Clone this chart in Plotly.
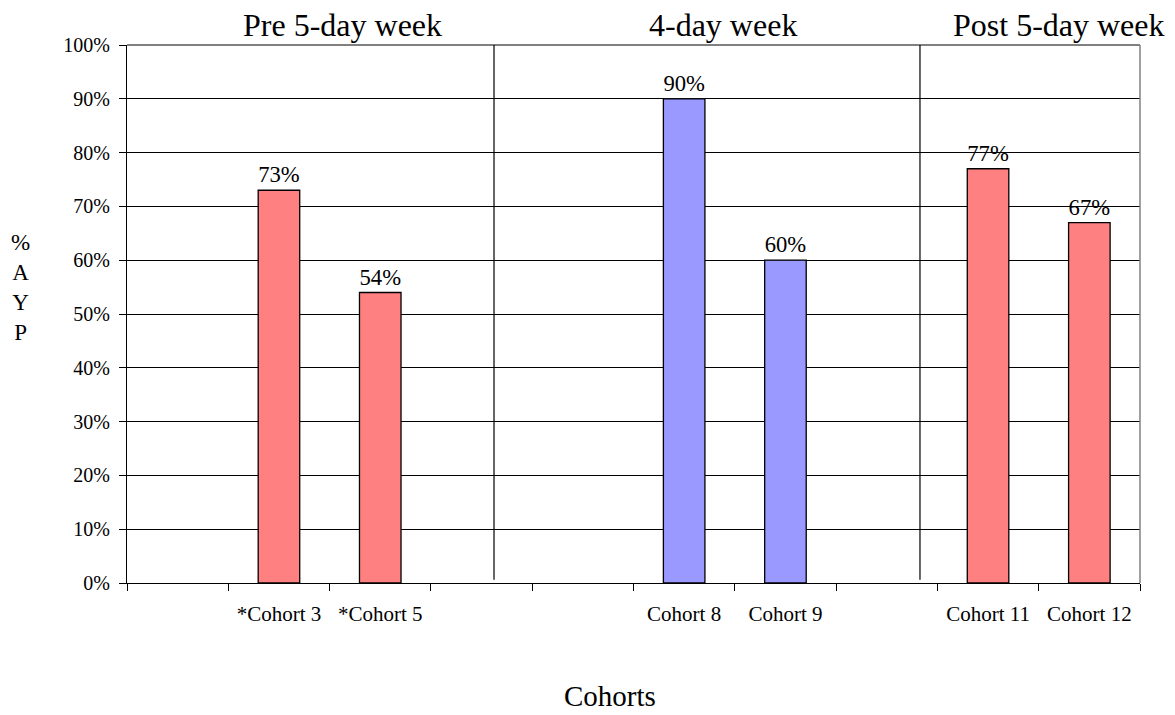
import plotly.graph_objects as go

# categories (blank slots keep the spacing of the original chart)
categories = [" ", "*Cohort 3", "*Cohort 5", "  ", "   ", "Cohort 8", "Cohort 9", "    ", "Cohort 11", "Cohort 12"]
values = [None, 0.73, 0.54, None, None, 0.90, 0.60, None, 0.77, 0.67]
bar_colors = ["#FF8080", "#FF8080", "#FF8080", "#9999FF", "#9999FF", "#9999FF", "#9999FF", "#FF8080", "#FF8080", "#FF8080"]
period_titles = ["Pre 5-day week", "4-day week", "Post 5-day week"]
y_ticks = [0, 0.1, 0.2, 0.3, 0.4, 0.5, 0.6, 0.7, 0.8, 0.9, 1.0]

FONT = "Liberation Serif, Times New Roman, serif"

fig = go.Figure()
fig.add_trace(go.Bar(
    x=categories,
    y=values,
    marker=dict(color=bar_colors, line=dict(color="#000000", width=1.3)),
    text=[f"{round(v*100)}%" if v is not None else "" for v in values],
    textposition="outside",
    textfont=dict(family=FONT, size=23, color="#000000"),
    cliponaxis=False,
    hoverinfo="x+y",
))

# the page body adds an 8px offset, so the figure is 8px smaller and margins shifted
fig.update_layout(
    width=1167, height=707,
    margin=dict(l=119, r=35, t=37, b=132, autoexpand=False),
    paper_bgcolor="white", plot_bgcolor="white",
    bargap=0.59,
    showlegend=False,
    font=dict(family=FONT, color="#000000"),
)

fig.update_xaxes(
    type="category",
    categoryorder="array", categoryarray=categories,
    tickson="boundaries",
    ticks="outside", ticklen=7, tickcolor="#000000", tickwidth=1,
    showline=True, linecolor="#000000", linewidth=1.3,
    showgrid=False,
    automargin=False,
    tickfont=dict(family=FONT, size=21, color="#000000"),
    ticklabelstandoff=12,
)
fig.update_yaxes(
    range=[0, 1],
    tickvals=y_ticks,
    tickformat=".0%",
    ticks="outside", ticklen=7, tickcolor="#000000", tickwidth=1,
    showline=True, linecolor="#000000", linewidth=1.3,
    showgrid=True, gridcolor="#000000", gridwidth=1,
    zeroline=False,
    automargin=False,
    tickfont=dict(family=FONT, size=20, color="#000000"),
    ticklabelstandoff=5,
)

# gray top and right frame
fig.add_shape(type="line", xref="paper", yref="paper", x0=0, x1=1, y0=1, y1=1,
              line=dict(color="#808080", width=2))
fig.add_shape(type="line", xref="paper", yref="paper", x0=1, x1=1, y0=0, y1=1,
              line=dict(color="#808080", width=1.5))

# period separators
for xs in [0.3623, 0.7828]:
    fig.add_shape(type="line", xref="paper", yref="paper", x0=xs, x1=xs, y0=0.006, y1=1,
                  line=dict(color="#000000", width=1.2))

# period titles
for txt, xp in zip(period_titles, [0.2125, 0.588, 0.9205]):
    fig.add_annotation(text=txt, xref="paper", yref="paper", x=xp, y=1, yshift=20,
                       showarrow=False, font=dict(family=FONT, size=32, color="#000000"),
                       xanchor="center", yanchor="middle")

# axis titles
fig.add_annotation(text="Cohorts", xref="paper", yref="paper", x=0.477, y=0, yshift=-113,
                   showarrow=False, font=dict(family=FONT, size=29, color="#000000"),
                   xanchor="center", yanchor="middle")
fig.add_annotation(text="%<br>A<br>Y<br>P", xref="paper", x=(20 - 127) / 1013,
                   yref="paper", y=0.55,
                   xanchor="center", yanchor="middle", showarrow=False,
                   font=dict(family=FONT, size=23, color="#000000"))

fig.write_html("out.html")
